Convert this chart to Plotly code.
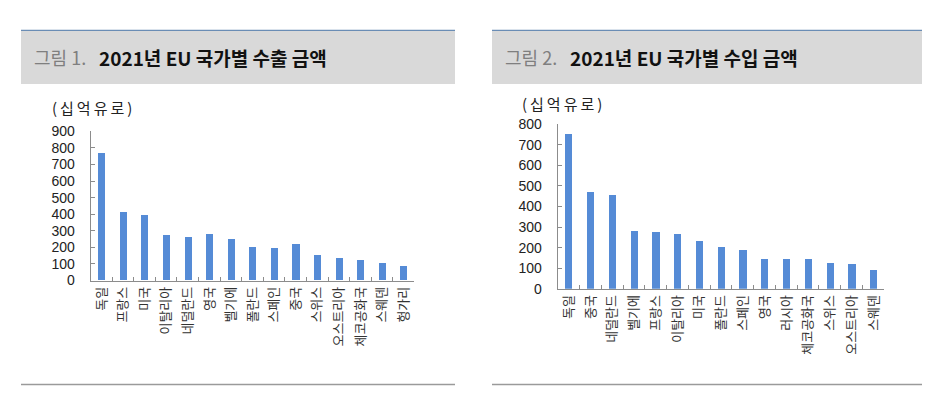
import plotly.graph_objects as go

# 2021 EU exports by partner country (bn EUR)
export_countries = ['독일', '프랑스', '미국', '이탈리아', '네덜란드', '영국', '벨기에', '폴란드',
                    '스페인', '중국', '스위스', '오스트리아', '체코공화국', '스웨덴', '헝가리']
export_values = [770, 414, 390, 275, 262, 279, 246, 202, 193, 218, 154, 135, 123, 104, 85]

# 2021 EU imports by partner country (bn EUR)
import_countries = ['독일', '중국', '네덜란드', '벨기에', '프랑스', '이탈리아', '미국', '폴란드',
                    '스페인', '영국', '러시아', '체코공화국', '스위스', '오스트리아', '스웨덴']
import_values = [752, 471, 455, 280, 275, 264, 232, 202, 187, 144, 144, 144, 125, 122, 93]

export_ticks = [0, 100, 200, 300, 400, 500, 600, 700, 800, 900]
import_ticks = [0, 100, 200, 300, 400, 500, 600, 700, 800]

# page body keeps an 8px margin, so the figure is smaller and shifted
OFF = 8
W, H = 923, 395
BAR = '#558bd6'
AXIS = '#8c8c8c'
KFONT = 'Noto Sans CJK KR'

def px(x):
	return (x - OFF) / W

def py(y):
	return 1 - (y - OFF) / H

fig = go.Figure()
fig.add_trace(go.Bar(x=export_countries, y=export_values, width=0.33,
					 marker=dict(color=BAR, line_width=0), xaxis='x', yaxis='y'))
fig.add_trace(go.Bar(x=import_countries, y=import_values, width=0.33,
					 marker=dict(color=BAR, line_width=0), xaxis='x2', yaxis='y2'))

xcommon = dict(type='category', showgrid=False, showline=True, linecolor=AXIS, linewidth=1,
			   ticks='inside', ticklen=4, tickcolor=AXIS, tickson='boundaries',
			   tickangle=-90, tickfont=dict(family=KFONT, size=13, color='#333333'),
			   fixedrange=True)
ycommon = dict(showgrid=False, showline=True, linecolor=AXIS, linewidth=1, zeroline=False,
			   ticks='inside', ticklen=4, tickcolor=AXIS, ticklabelstandoff=12,
			   tickfont=dict(family='Liberation Sans', size=14, color='#222222'),
			   fixedrange=True)

fig.update_layout(
	width=W, height=H,
	margin=dict(l=0, r=0, t=0, b=0),
	paper_bgcolor='white', plot_bgcolor='white',
	showlegend=False, bargap=0,
	xaxis=dict(xcommon, domain=[px(90.7), px(414.3)], anchor='y', range=[-0.5, 14.5]),
	yaxis=dict(ycommon, domain=[py(283.7), py(128.3)], anchor='x', range=[0, 900],
			   tickvals=export_ticks),
	xaxis2=dict(xcommon, domain=[px(557.7), px(884.3)], anchor='y2', range=[-0.5, 14.5]),
	yaxis2=dict(ycommon, domain=[py(292.3), py(120.7)], anchor='x2', range=[0, 800],
				tickvals=import_ticks),
)

shapes = []
annotations = []
panels = [
	(21, 455, '그림 1.', '2021년 EU 국가별 수출 금액', 50, 103),
	(492, 922, '그림 2.', '2021년 EU 국가별 수입 금액', 520, 99),
]
unit_label = '\u2009'.join('(십억유로)')
for x0, x1, fig_no, title, lab_x, lab_y in panels:
	# grey title band with thin blue rule on top
	shapes.append(dict(type='rect', xref='paper', yref='paper', x0=px(x0), x1=px(x1),
					   y0=py(79), y1=py(23), fillcolor='#d9d9d9', line_width=0, layer='below'))
	shapes.append(dict(type='line', xref='paper', yref='paper', x0=px(x0), x1=px(x1),
					   y0=py(23), y1=py(23), line=dict(color='#6a8db5', width=1.2)))
	# bottom rule
	shapes.append(dict(type='line', xref='paper', yref='paper', x0=px(x0), x1=px(x1),
					   y0=py(392), y1=py(392), line=dict(color='#9a9a9a', width=1.5)))
	annotations.append(dict(text=fig_no, xref='paper', yref='paper', x=px(x0 + 11), y=py(51),
							xanchor='left', yanchor='middle', showarrow=False,
							font=dict(family=KFONT, size=18, color='#7f7f7f')))
	annotations.append(dict(text='<b>' + title + '</b>', xref='paper', yref='paper',
							x=px(x0 + 76), y=py(51), xanchor='left', yanchor='middle',
							showarrow=False, font=dict(family=KFONT, size=19, color='#111111')))
	annotations.append(dict(text=unit_label, xref='paper', yref='paper', x=px(lab_x), y=py(lab_y),
							xanchor='left', yanchor='middle', showarrow=False,
							font=dict(family=KFONT, size=15, color='#222222')))

fig.update_layout(shapes=shapes, annotations=annotations)

fig.write_html("out.html")
